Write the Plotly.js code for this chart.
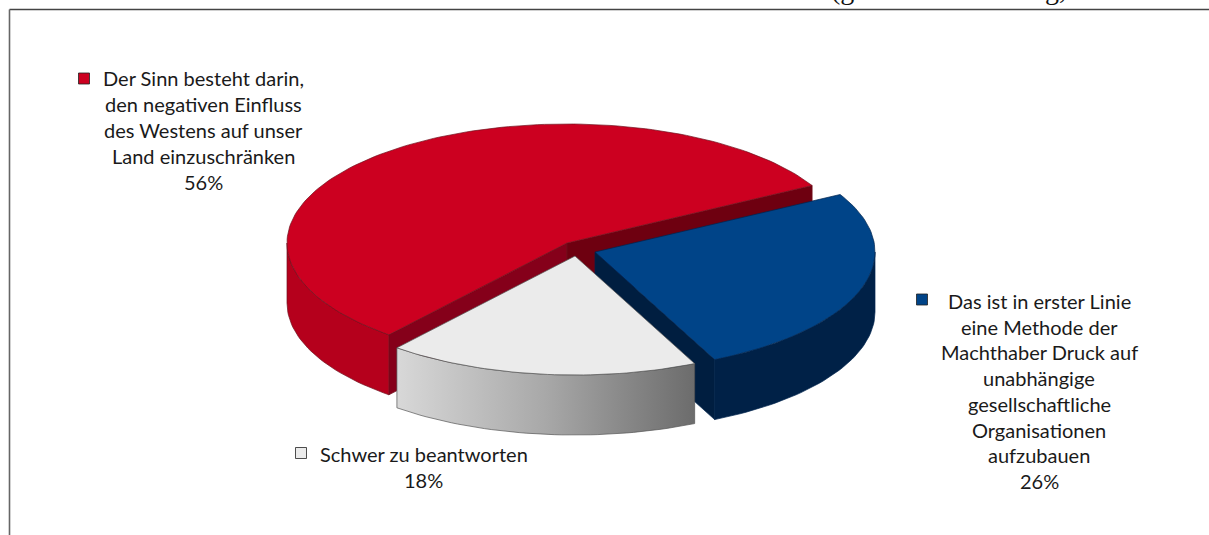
<!DOCTYPE html>
<html><head><meta charset="utf-8">
<script src="https://cdn.plot.ly/plotly-3.0.1.min.js"></script>
<style>html,body{margin:0;padding:0;background:#fff;overflow:hidden}#c{width:1209px;height:535px}svg text{font-variant-ligatures:none}</style>
</head><body><div id="c"></div>
<script>
// data
var categories = ['Das ist in erster Linie eine Methode der Machthaber Druck auf unabhängige gesellschaftliche Organisationen aufzubauen', 'Schwer zu beantworten', 'Der Sinn besteht darin, den negativen Einfluss des Westens auf unser Land einzuschränken'];
var values = [26, 18, 56];
var blueLines = ['Das ist in erster Linie','eine Methode der','Machthaber Druck auf','unabhängige','gesellschaftliche','Organisationen','aufzubauen','26%'];
var whiteLines = ['Schwer zu beantworten','18%'];
var redLines = ['Der Sinn besteht darin,','den negativen Einfluss','des Westens auf unser','Land einzuschränken','56%'];

// geometry and style
var RX = 280, RY = 119, DEPTH = 60, START = 28.9;
var centers = [[595,252],[575,256],[567,243]];
var topColors = ['#004488','#EBEBEB','#CC0020'];
var walls = ['#002147','#999999','#B5001C'];
var cuts = [['#001E40','#001E40'],[null,null],['#85001A','#6E0010']];
var edges = ['#00244d','#555555','#70101c'];
var labelCx = [1039, 423.5, 203.5];
var labelY = [[301,326.7,352.4,378,403.8,429.5,455.2,481],[454,480],[78,104,130,156,182]];
var markers = [[922,299.5],[301,453],[84,78.5]];
var FONT = 'Lato', FS = 20;

function pt(c,deg,drop){var r=deg*Math.PI/180;return [c[0]+RX*Math.cos(r), c[1]-RY*Math.sin(r)+(drop||0)];}
function arc(c,a0,a1,drop){var n=Math.max(2,Math.ceil(Math.abs(a1-a0)/1.5)),o=[];for(var i=0;i<=n;i++)o.push(pt(c,a0+(a1-a0)*i/n,drop));return o;}
function poly(points,fill,line,grad){
  var xs=points.map(function(p){return p[0]}),ys=points.map(function(p){return p[1]});
  xs.push(xs[0]);ys.push(ys[0]);
  var t={type:'scatter',mode:'lines',x:xs,y:ys,fill:'toself',fillcolor:fill,line:{color:line,width:0.7},hoverinfo:'skip',showlegend:false};
  if(grad)t.fillgradient=grad;
  return t;
}
// sweep clockwise from START
var total=values.reduce(function(a,b){return a+b},0),ang=START,spans=[];
values.forEach(function(v){var e=ang-v/total*360;spans.push([ang,e]);ang=e;});

function wall(i,a0,a1,grad){
  var c=centers[i];
  return poly(arc(c,a0,a1,0).concat(arc(c,a1,a0,DEPTH)),walls[i],edges[i],grad);
}
function cut(i,deg,color){
  var c=centers[i],e=pt(c,deg,0),e2=pt(c,deg,DEPTH),c2=[c[0],c[1]+DEPTH];
  return poly([c,e,e2,c2],color,edges[i]);
}
function face(i){var c=centers[i];return poly([c].concat(arc(c,spans[i][0],spans[i][1],0)),topColors[i],edges[i]);}

var traces=[];
// red: index 2
var rs=spans[2];
traces.push(cut(2,rs[0],cuts[2][0]));
traces.push(cut(2,rs[1],cuts[2][1]));
traces.push(wall(2,rs[0],-180));
traces.push(face(2));
// blue: index 0
traces.push(wall(0,0,spans[0][1]));
traces.push(cut(0,spans[0][1],cuts[0][0]));
traces.push(face(0));
// white: index 1
traces.push(wall(1,spans[1][0],spans[1][1],{type:'horizontal',colorscale:[[0,'#D8D8D8'],[0.5,'#A8A8A8'],[1,'#6C6C6C']]}));
traces.push(face(1));
// legend squares
traces.push({type:'scatter',mode:'markers',x:markers.map(function(m){return m[0]}),y:markers.map(function(m){return m[1]}),
  marker:{symbol:'square',size:11,color:topColors,line:{color:'#222',width:0.8}},hoverinfo:'skip',showlegend:false});

var ann=[];
[blueLines,whiteLines,redLines].forEach(function(lines,i){
  lines.forEach(function(s,j){
    ann.push({text:s,x:labelCx[i],y:labelY[i][j],xref:'x',yref:'y',xanchor:'center',yanchor:'middle',showarrow:false,
      font:{family:FONT,size:FS,color:'#1a1a1a'}});
  });
});
// clipped heading descenders at the very top
[['(g',842.5],['g,',1055.5]].forEach(function(h){
  ann.push({text:h[0],x:h[1],y:0,yshift:11,xref:'x',yref:'y',xanchor:'center',yanchor:'middle',showarrow:false,
    font:{family:'Liberation Serif',size:28,color:'#111'}});
});

var layout={width:1209,height:535,margin:{l:0,r:0,t:0,b:0},paper_bgcolor:'#fff',plot_bgcolor:'#fff',showlegend:false,
  xaxis:{range:[0,1209],visible:false,fixedrange:true},
  yaxis:{range:[535,0],visible:false,fixedrange:true},
  annotations:ann,
  shapes:[
    {type:'line',xref:'paper',yref:'paper',x0:9.5/1209,x1:1,y0:1-9.5/535,y1:1-9.5/535,line:{color:'#444',width:1.6}},
    {type:'line',xref:'paper',yref:'paper',x0:9.5/1209,x1:9.5/1209,y0:0,y1:1-9.5/535,line:{color:'#666',width:1.6}}
  ]};
Plotly.newPlot('c',traces,layout,{displayModeBar:false,staticPlot:true});
</script></body></html>
